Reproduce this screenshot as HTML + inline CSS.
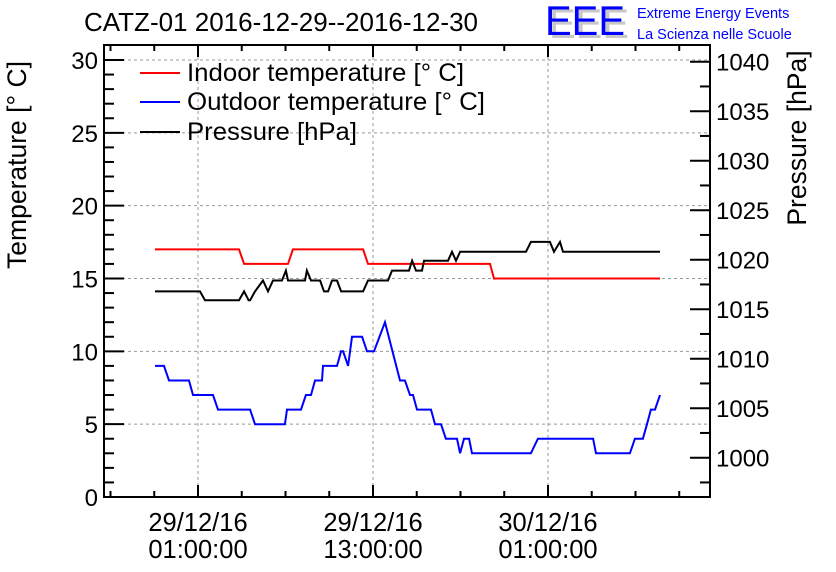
<!DOCTYPE html>
<html><head><meta charset="utf-8">
<style>
html,body{margin:0;padding:0;background:#fff;}
svg{display:block;font-family:"Liberation Sans",Arial,sans-serif;}
</style></head>
<body>
<svg id="chart" width="836" height="572" viewBox="0 0 836 572" xmlns="http://www.w3.org/2000/svg">
<text x="84" y="31" font-size="25.5" textLength="394" lengthAdjust="spacingAndGlyphs">CATZ-01 2016-12-29--2016-12-30</text>
<g>
<text x="549" y="38" font-size="42" fill="#c8c8c8" textLength="80" lengthAdjust="spacingAndGlyphs">EEE</text>
<text x="545" y="35" font-size="42" fill="#0000ff" textLength="80" lengthAdjust="spacingAndGlyphs">EEE</text>
<text x="637" y="18" font-size="14.5" fill="#0000ff">Extreme Energy Events</text>
<text x="637" y="39" font-size="14.5" fill="#0000ff">La Scienza nelle Scuole</text>
</g>
<text transform="translate(26,165) rotate(-90)" text-anchor="middle" font-size="26.5">Temperature [° C]</text>
<text transform="translate(806,138) rotate(-90)" text-anchor="middle" font-size="26.5">Pressure [hPa]</text>
<g id="grid"></g>
<g id="series"></g>
<g id="axes"></g>
<g>
<g><line x1="140" y1="73" x2="180" y2="73" stroke="#ff0000" stroke-width="2"/><text x="187" y="81" font-size="25" textLength="277" lengthAdjust="spacingAndGlyphs">Indoor temperature [° C]</text></g>
<g><line x1="140" y1="102" x2="180" y2="102" stroke="#0000ff" stroke-width="2"/><text x="187" y="110" font-size="25" textLength="298" lengthAdjust="spacingAndGlyphs">Outdoor temperature [° C]</text></g>
<g><line x1="140" y1="132" x2="180" y2="132" stroke="#000" stroke-width="2"/><text x="187" y="140" font-size="25" textLength="170" lengthAdjust="spacingAndGlyphs">Pressure [hPa]</text></g>
</g>
</svg>
<script>
// hours since 29/12/16 00:00
const indoorT = [-1.95,3.81,4.16,7.17,7.51,12.32,12.66,21.02,21.30,32.68];
const indoorV = [17,17,16,16,17,17,16,16,15,15];
const outdoorT = [-1.95,-1.33,-0.99,0.38,0.66,2.03,2.37,4.57,4.91,6.96,7.10,8.06,8.40,8.75,9.02,9.50,9.57,10.53,10.81,10.95,11.29,11.56,11.84,12.25,12.59,13.07,13.82,14.85,15.19,15.54,15.74,16.02,16.98,17.25,17.66,18.00,18.76,18.97,19.24,19.59,19.79,23.83,24.31,28.09,28.29,30.62,30.96,31.51,31.79,32.06,32.34,32.68];
const outdoorV = [9,9,8,8,7,7,6,6,5,5,6,6,7,7,8,8,9,9,10,10,9,11,11,11,10,10,12,8,8,7,7,6,6,5,5,4,4,3,4,4,3,3,4,4,3,3,4,4,5,6,6,7];
const pressT = [-1.95,1.14,1.48,3.81,4.16,4.47,4.57,4.91,5.46,5.80,6.14,6.76,7.03,7.17,8.34,8.47,8.75,9.37,9.64,9.92,10.19,10.53,10.81,12.32,12.66,14.03,14.30,15.47,15.68,15.95,16.36,16.50,18.14,18.42,18.69,18.97,23.49,23.83,25.13,25.41,25.82,26.03,32.68];
const pressV = [1016.8,1016.8,1015.9,1015.9,1016.8,1015.9,1015.9,1016.8,1017.9,1016.8,1017.9,1017.9,1018.9,1017.9,1017.9,1018.9,1017.9,1017.9,1016.8,1016.8,1017.9,1017.9,1016.8,1016.8,1017.9,1017.9,1018.9,1018.9,1019.9,1018.9,1018.9,1019.9,1019.9,1020.8,1019.9,1020.8,1020.8,1021.8,1021.8,1020.8,1021.8,1020.8,1020.8];
const leftTicks = [0,5,10,15,20,25,30];
const rightTicks = [1000,1005,1010,1015,1020,1025,1030,1035,1040];
const xTickHours = [1,13,25];
const xTickLabels = [["29/12/16","01:00:00"],["29/12/16","13:00:00"],["30/12/16","01:00:00"]];

const L=104,R=710,T=45,B=497;
const xS = h => 198 + (h-1)*14.583;
const yT = v => 497 - v*14.567;
const yP = p => 457.7 - (p-1000)*9.9;
const NS="http://www.w3.org/2000/svg";
function mk(tag, attrs, parent){const e=document.createElementNS(NS,tag);for(const k in attrs)e.setAttribute(k,attrs[k]);parent.appendChild(e);return e;}
const grid=document.getElementById('grid'), series=document.getElementById('series'), axes=document.getElementById('axes');

leftTicks.forEach(v=>{ if(v>0){const g=mk('line',{x1:L,x2:R,y1:yT(v),y2:yT(v),stroke:'#999','stroke-dasharray':'3,3','stroke-width':1},grid);

}});
xTickHours.forEach(h=>{const g=mk('line',{x1:xS(h),x2:xS(h),y1:T,y2:B,stroke:'#999','stroke-dasharray':'3,3','stroke-width':1},grid);

});

function stepLine(ts, vs, yf, color, name){
  const pts=ts.map((t,i)=>xS(t).toFixed(1)+','+yf(vs[i]).toFixed(1)).join(' ');
  const p=mk('polyline',{points:pts,fill:'none',stroke:color,'stroke-width':2,'stroke-linejoin':'miter'},series);
  
  
}
stepLine(indoorT,indoorV,yT,'#ff0000','indoor-temperature-line');
stepLine(pressT,pressV,yP,'#000000','pressure-line');
stepLine(outdoorT,outdoorV,yT,'#0000ff','outdoor-temperature-line');

const fr=mk('rect',{x:L,y:T,width:R-L,height:B-T,fill:'none',stroke:'#000','stroke-width':2},axes);


for(let v=0;v<=30;v++){const len=v%5===0?20:10;mk('line',{x1:L,x2:L+len,y1:yT(v),y2:yT(v),stroke:'#000','stroke-width':2},axes);}
leftTicks.forEach(v=>{const t=mk('text',{x:L-6,y:yT(v)+9,'text-anchor':'end','font-size':24},axes);t.textContent=v;

});
for(let p=997.5;p<=1042.5;p+=2.5){const y=yP(p);if(y<T||y>B)continue;const len=(p%5===0)?20:10;mk('line',{x1:R-len,x2:R,y1:y,y2:y,stroke:'#000','stroke-width':2},axes);}
rightTicks.forEach(p=>{const t=mk('text',{x:R+6,y:yP(p)+9,'font-size':24},axes);t.textContent=p;

});
for(let h=-5;h<=37;h+=3){const x=xS(h);if(x<=L||x>=R)continue;const len=((h-1)%12===0)?12:6;
mk('line',{x1:x,x2:x,y1:B,y2:B-len,stroke:'#000','stroke-width':2},axes);
mk('line',{x1:x,x2:x,y1:T,y2:T+len,stroke:'#000','stroke-width':2},axes);}
xTickHours.forEach((h,i)=>{xTickLabels[i].forEach((s,j)=>{const t=mk('text',{x:xS(h),y:531+j*27,'text-anchor':'middle','font-size':25.5},axes);t.textContent=s;

});});
</script>
</body></html>
